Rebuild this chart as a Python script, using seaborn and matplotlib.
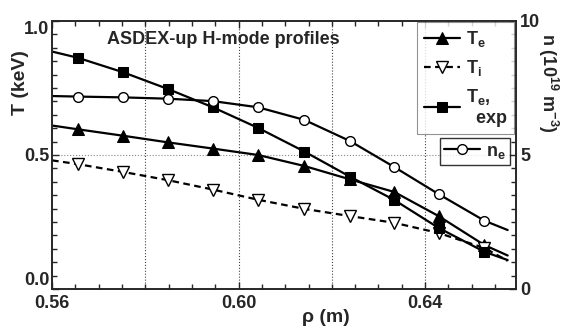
import matplotlib
matplotlib.use("Agg")
import matplotlib.pyplot as plt
import seaborn as sns
import pandas as pd
from matplotlib.ticker import MultipleLocator, FixedLocator

# radius (m): first / last entries are the curve end points, the rest carry markers
rho = [0.5600, 0.5655, 0.5752, 0.5849, 0.5945, 0.6042, 0.6141, 0.6239, 0.6334, 0.6429, 0.6527, 0.6577]
te = [0.610, 0.596, 0.572, 0.547, 0.524, 0.500, 0.459, 0.409, 0.362, 0.272, 0.164, 0.125]
ti = [0.480, 0.466, 0.437, 0.406, 0.371, 0.333, 0.299, 0.272, 0.247, 0.209, 0.153, 0.105]
te_exp = [0.886, 0.863, 0.809, 0.746, 0.678, 0.601, 0.513, 0.419, 0.332, 0.228, 0.139, 0.108]
ne = [7.20, 7.18, 7.15, 7.10, 7.01, 6.78, 6.31, 5.52, 4.55, 3.54, 2.55, 2.20]

grid_rho = [0.58, 0.60, 0.62, 0.64]
x_ticks = [0.56, 0.60, 0.64]
y_ticks = [0.0, 0.5, 1.0]

sns.set_theme(style="ticks")
plt.rcParams['font.family'] = ['Liberation Sans', 'DejaVu Sans']
plt.rcParams['font.weight'] = 'bold'
plt.rcParams['mathtext.fontset'] = 'custom'
plt.rcParams['mathtext.rm'] = 'Liberation Sans:bold'
plt.rcParams['mathtext.bf'] = 'Liberation Sans:bold'
plt.rcParams['mathtext.it'] = 'Liberation Sans:bold:italic'

df = pd.DataFrame({"rho": rho, "Te": te, "Ti": ti, "Te_exp": te_exp, "ne": ne})

fig = plt.figure(figsize=(5.64, 3.26), dpi=100)
ax = fig.add_axes([0.0922, 0.1135, 0.8228, 0.8221])
ax2 = ax.twinx()

mk = slice(1, -1)
sns.lineplot(data=df, x="rho", y="Te", ax=ax, color="black", lw=1.6, marker="^", ms=8,
             mfc="black", mec="black", markevery=mk, label=r"T$_\mathrm{e}$", legend=False)
sns.lineplot(data=df, x="rho", y="Ti", ax=ax, color="black", lw=1.6, ls=(0, (3, 2)), marker="v", ms=8,
             mfc="white", mec="black", mew=1.0, markevery=mk, label=r"T$_\mathrm{i}$", legend=False)
sns.lineplot(data=df, x="rho", y="Te_exp", ax=ax, color="black", lw=1.6, marker="s", ms=7.5,
             mfc="black", mec="black", markevery=mk, label="T$_\\mathrm{e}$,\n  exp", legend=False)
sns.lineplot(data=df, x="rho", y="ne", ax=ax2, color="black", lw=1.6, marker="o", ms=7,
             mfc="white", mec="black", mew=1.0, markevery=mk, label=r"n$_\mathrm{e}$", legend=False)

for g in grid_rho:
    ax.axvline(g, color="#444444", lw=0.8, ls=":", zorder=0)
ax.axhline(0.5, color="#888888", lw=0.8, ls=":", zorder=0)

ax.set_xlim(0.56, 0.6595)
ax.set_ylim(0, 1.0)
ax2.set_ylim(0, 10)

ax.xaxis.set_major_locator(FixedLocator(x_ticks))
ax.xaxis.set_minor_locator(MultipleLocator(0.005))
ax.yaxis.set_major_locator(FixedLocator(y_ticks))
ax.yaxis.set_minor_locator(MultipleLocator(0.05))
ax2.yaxis.set_major_locator(MultipleLocator(5))
ax2.yaxis.set_minor_locator(MultipleLocator(0.5))
ax.set_xticklabels(["0.56", "0.60", "0.64"])
ax.set_yticklabels(["0.0", "0.5", "1.0"])

for a in (ax, ax2):
    a.tick_params(which="both", direction="in", labelsize=13, width=1.0, pad=3)
    a.tick_params(which="major", length=5)
    a.tick_params(which="minor", length=3.5)
ax.tick_params(axis="x", which="both", top=True, pad=4)
ax.tick_params(axis="y", which="both", right=False, pad=2)
for s in ax.spines.values():
    s.set_linewidth(1.2)
for s in ax2.spines.values():
    s.set_linewidth(1.2)

# end labels sit inside the axis range, as in the original
yt = ax.yaxis.get_major_ticks()
yt[0].label1.set_va("bottom")
yt[-1].label1.set_va("top")

ax.set_xlabel("ρ (m)", fontsize=14, fontweight="bold")
ax.xaxis.set_label_coords(0.59, -0.075)
ax.set_ylabel("T (keV)", fontsize=14, fontweight="bold")
ax.yaxis.set_label_coords(-0.05, 0.77)
ax2.set_ylabel(r"n (10$^{19}$ m$^{-3}$)", fontsize=13, fontweight="bold", rotation=270, va="bottom")
ax2.yaxis.set_label_coords(1.044, 0.77)

ax.text(0.118, 0.93, "ASDEX-up H-mode profiles", transform=ax.transAxes, fontsize=13,
        fontweight="bold", va="center", ha="left")

h1 = ax.get_lines()[:3]
leg1 = ax2.legend(handles=h1, loc="upper right", bbox_to_anchor=(0.995, 0.997), fontsize=13,
                  frameon=True, fancybox=False, handlelength=2.0, handletextpad=0.3,
                  labelspacing=0.5, borderpad=0.4, borderaxespad=0)
leg1.get_frame().set_edgecolor("#777777")
leg1.get_frame().set_linewidth(0.8)
ax2.add_artist(leg1)
leg2 = ax2.legend(handles=ax2.get_lines()[:1], loc="upper right", bbox_to_anchor=(0.987, 0.563),
                  fontsize=13, frameon=True, fancybox=False, handlelength=2.0, handletextpad=0.3,
                  borderpad=0.25, borderaxespad=0)
leg2.get_frame().set_edgecolor("black")
leg2.get_frame().set_linewidth(1.0)

fig.savefig("out.png", dpi=100)
